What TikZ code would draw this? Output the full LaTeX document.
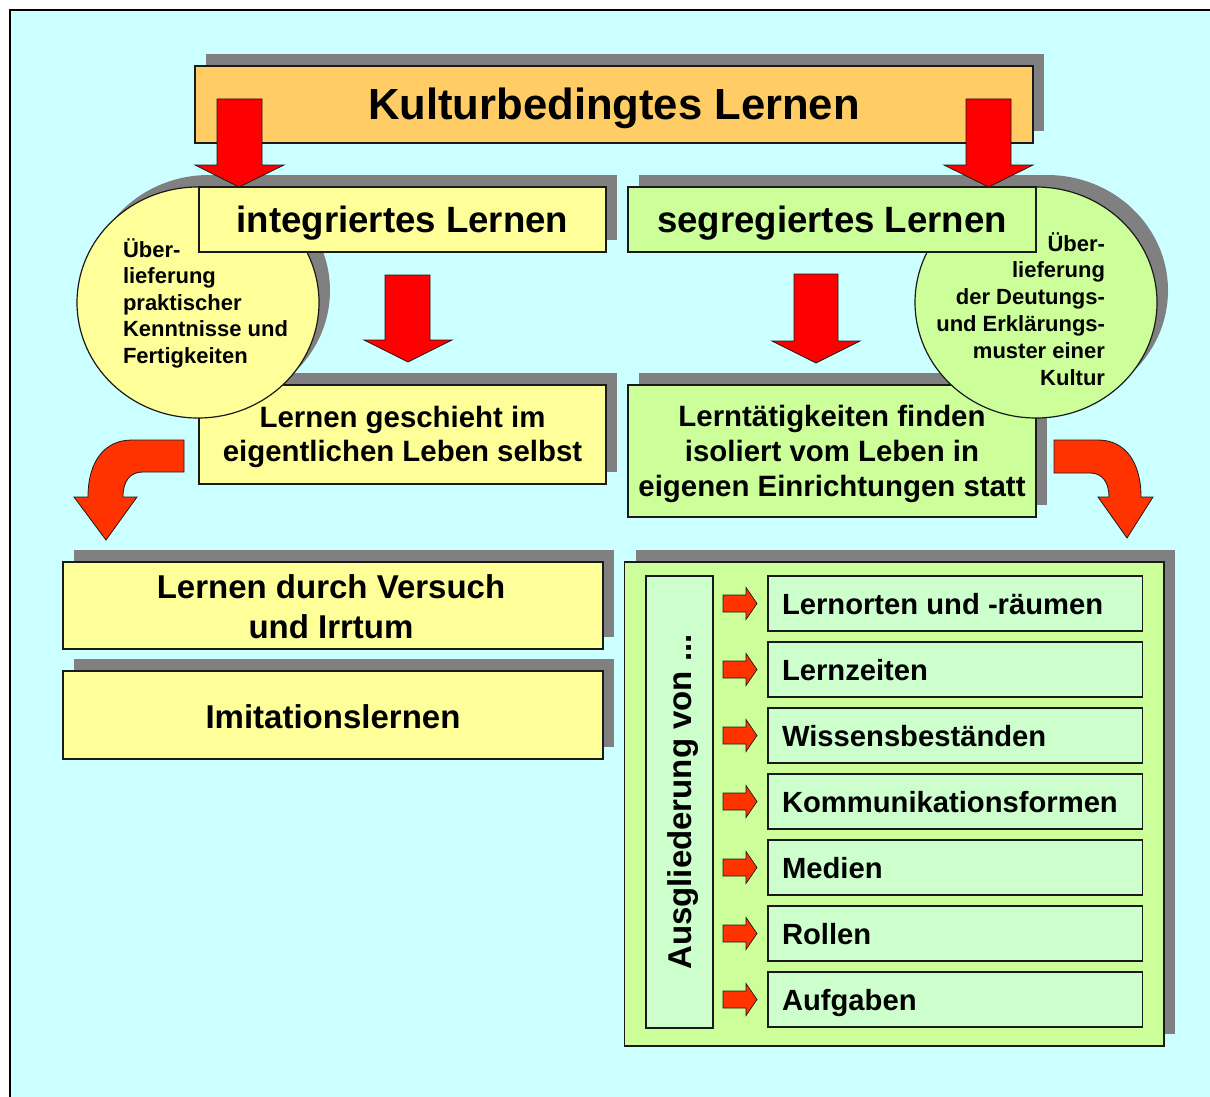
\documentclass[tikz,border=0pt]{standalone}
\usepackage{fontspec}
\setmainfont{Liberation Sans}
\usetikzlibrary{shapes.geometric}

\pgfdeclarelayer{backdrop}
\pgfdeclarelayer{shadowlayer}
\pgfsetlayers{backdrop,shadowlayer,main}

\definecolor{sky}{HTML}{CCFFFF}
\definecolor{shade}{HTML}{808080}
\definecolor{titleorange}{HTML}{FFCC66}
\definecolor{paleyellow}{HTML}{FFFF99}
\definecolor{palegreen}{HTML}{CCFF99}
\definecolor{mint}{HTML}{CCFFCC}
\definecolor{arrowred}{HTML}{FF0000}
\definecolor{arroworange}{HTML}{FF3300}
\definecolor{edgeline}{HTML}{1A1A1A}

\newcommand\bsize[1]{\fontsize{#1}{#1}\selectfont\bfseries}

\begin{document}
\begin{tikzpicture}[x=1pt,y=-1pt,
  every node/.style={inner sep=0pt,outer sep=0pt},
  panel/.style={rectangle,draw=edgeline,line width=1.2pt,anchor=north west},
  disc/.style={ellipse,draw=edgeline,line width=1.2pt,minimum width=242pt,minimum height=231pt},
  castshadow/.style={fill=shade},
  bigarrow/.style={fill=arrowred,draw=edgeline,line width=0.8pt,line join=miter},
  bentarrow/.style={fill=arroworange,draw=edgeline,line width=0.8pt},
  tinyarrow/.style={fill=arroworange,draw=edgeline,line width=0.7pt},
  titlefont/.style={font=\bsize{43.6}},
  headfont/.style={font=\bsize{36.6}},
  bodyfont/.style={font=\bsize{29.4}},
  listfont/.style={font=\bsize{33}},
  itemfont/.style={font=\bsize{29.2}},
  notefont/.style={font=\bsize{22}},
]
\useasboundingbox (0,0) rectangle (1210,1097);

% page background and frame
\begin{pgfonlayer}{backdrop}
  \fill[white] (0,0) rectangle (1210,1097);
  \fill[sky] (10,10) rectangle (1210,1097);
  \draw[black,line width=2pt] (10,1097) -- (10,10) -- (1210,10);
\end{pgfonlayer}

% title
\node[panel,fill=titleorange,minimum width=838pt,minimum height=77pt] (title) at (195,66) {};
\node[titlefont,anchor=base] (title-text) at (614,120) {Kulturbedingtes Lernen};

% second row boxes (lie under the discs)
\node[panel,fill=paleyellow,minimum width=407pt,minimum height=99pt] (leben) at (199,385) {};
\node[panel,fill=palegreen,minimum width=408pt,minimum height=132pt] (lernt) at (628,385) {};

% discs
\node[disc,fill=paleyellow] (lcirc) at (198,302.5) {};
\node[disc,fill=palegreen] (rcirc) at (1036,302.5) {};

% first row boxes
\node[panel,fill=paleyellow,minimum width=407pt,minimum height=65pt] (integ) at (199,187) {};
\node[panel,fill=palegreen,minimum width=408pt,minimum height=65pt] (segreg) at (628,187) {};

% lower left boxes
\node[panel,fill=paleyellow,minimum width=540pt,minimum height=87pt] (versuch) at (63,562) {};
\node[panel,fill=paleyellow,minimum width=540pt,minimum height=88pt] (imit) at (63,671) {};

% lower right group
\node[panel,fill=palegreen,minimum width=539.5pt,minimum height=484pt] (ausg) at (624.5,562) {};
\node[panel,fill=mint,minimum width=67pt,minimum height=452pt] (vert) at (646,576) {};
\foreach \k in {1,...,7}{
  \pgfmathsetmacro\rowtop{576+66*(\k-1)}
  \node[panel,fill=mint,minimum width=374.5pt,minimum height=55pt] (item\k) at (768,\rowtop) {};
}

% shadows
\begin{pgfonlayer}{shadowlayer}
  \foreach \n in {title,integ,segreg,leben,lernt,versuch,imit,ausg}
    \fill[castshadow] ([shift={(11,-12)}]\n.north west) rectangle ([shift={(11,-12)}]\n.south east);
  \foreach \n in {lcirc,rcirc}
    \fill[castshadow] ([shift={(11,-12)}]\n.center) ellipse [x radius=121, y radius=115.5];
\end{pgfonlayer}

% texts
\node[headfont,anchor=base] (integ-text) at (402.5,232) {integriertes Lernen};
\node[headfont,anchor=base] (segreg-text) at (832,232) {segregiertes Lernen};

\node[bodyfont,anchor=base] (leben-a) at (402.5,427) {Lernen geschieht im};
\node[bodyfont,anchor=base] (leben-b) at (402.5,461) {eigentlichen Leben selbst};

\node[bodyfont,anchor=base] (lernt-a) at (832,426) {Lerntätigkeiten finden};
\node[bodyfont,anchor=base] (lernt-b) at (832,461) {isoliert vom Leben in};
\node[bodyfont,anchor=base] (lernt-c) at (832,496) {eigenen Einrichtungen statt};

\foreach \t [count=\k] in {Über-,lieferung,praktischer,Kenntnisse und,Fertigkeiten}
  \node[notefont,anchor=base west] (lnote\k) at (123,{257+26.5*(\k-1)}) {\t};
\foreach \t [count=\k] in {Über-,lieferung,der Deutungs-,und Erklärungs-,muster einer,Kultur}
  \node[notefont,anchor=base east] (rnote\k) at (1105,{251+26.8*(\k-1)}) {\t};

\node[listfont,anchor=base] (versuch-a) at (331,598) {Lernen durch Versuch};
\node[listfont,anchor=base] (versuch-b) at (331,638) {und Irrtum};
\node[listfont,anchor=base] (imit-text) at (333,728) {Imitationslernen};

\node[listfont,anchor=base,rotate=90] (vert-text) at (691,802) {Ausgliederung von ...};

\foreach \t [count=\k] in {Lernorten und -räumen,Lernzeiten,Wissensbeständen,Kommunikationsformen,Medien,Rollen,Aufgaben}{
  \pgfmathsetmacro\base{576+66*(\k-1)+38}
  \node[itemfont,anchor=base west] (itemtext\k) at (782,\base) {\t};
  \pgfmathsetmacro\mid{576+66*(\k-1)+27.5}
  \filldraw[tinyarrow] (723,{\mid-8.5}) -- (746,{\mid-8.5}) -- (746,{\mid-16}) -- (757,\mid)
     -- (746,{\mid+16}) -- (746,{\mid+8.5}) -- (723,{\mid+8.5}) -- cycle;
}

% straight block arrows
\filldraw[bigarrow] (217,99) -- (262,99) -- (262,165) -- (284,165) -- (239,187) -- (195,165) -- (217,165) -- cycle;
\filldraw[bigarrow] (966,99) -- (1011,99) -- (1011,165) -- (1033,165) -- (988.5,187) -- (944,165) -- (966,165) -- cycle;
\filldraw[bigarrow] (385,275) -- (430,275) -- (430,340) -- (452,340) -- (408,362) -- (364,340) -- (385,340) -- cycle;
\filldraw[bigarrow] (794,274) -- (838,274) -- (838,341) -- (860,341) -- (816,363) -- (772,341) -- (794,341) -- cycle;

% bent block arrows
\filldraw[bentarrow] (184,440) -- (132,440) .. controls (104,440) and (88,462) .. (88,497)
  -- (74,497) -- (106,540) -- (137,497) -- (123,497)
  .. controls (123,481) and (130,472) .. (143,472) -- (184,472) -- cycle;
\filldraw[bentarrow] (1054,440) -- (1098,440) .. controls (1125,440) and (1141,462) .. (1141,497)
  -- (1153,497) -- (1127,538) -- (1098,497) -- (1109,497)
  .. controls (1109,482) and (1102,473) .. (1090,473) -- (1054,473) -- cycle;
\end{tikzpicture}
\end{document}
